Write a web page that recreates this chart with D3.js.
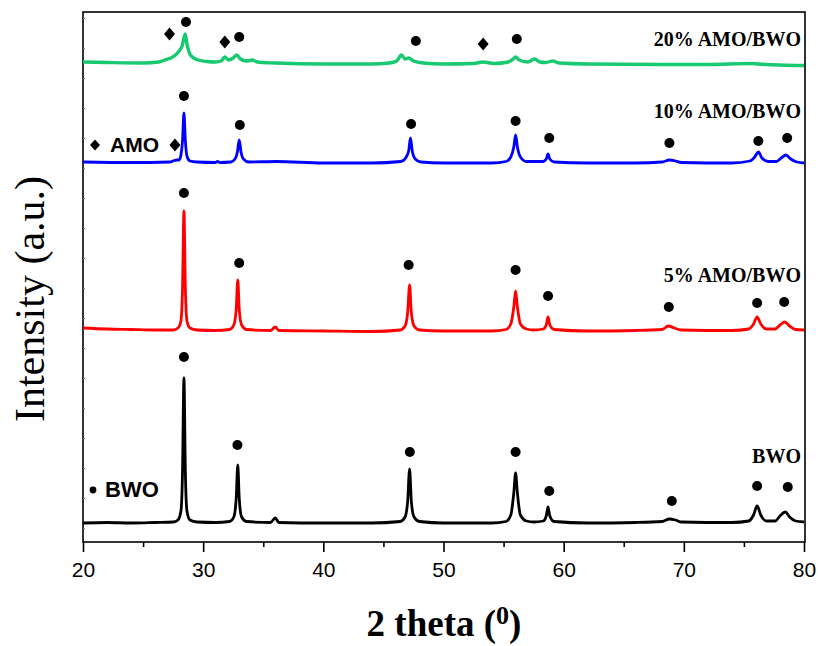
<!DOCTYPE html>
<html>
<head>
<meta charset="utf-8">
<script src="https://cdn.jsdelivr.net/npm/d3@7"></script>
<style>
  html, body {margin: 0; padding: 0; background: #fff;}
  svg {display: block;}
</style>
</head>
<body>
<div id="chart"></div>
<script>
// x tick values (2 theta, degrees)
var xMajor = [20, 30, 40, 50, 60, 70, 80]
var xMinor = [25, 35, 45, 55, 65, 75]

var seriesNames = ['BWO', '5% AMO/BWO', '10% AMO/BWO', '20% AMO/BWO']
var seriesColors = ['#000000', '#ff0000', '#0000ff', '#17c96f']
// vertical offset of each pattern in the stack (a.u.)
var seriesOffsets = [5, 197, 365, 464]

// patterns: [2theta, intensity above own baseline]
var bwoPts = [
  [20, 0], [22, 0.5], [24, 0], [26, 0.5], [27.5, 1], [27.9, 3], [28.15, 12], [28.28, 50],
  [28.4, 145], [28.52, 50], [28.65, 12], [28.9, 3], [29.5, 1], [31, 0.5], [32.2, 1.5],
  [32.55, 6], [32.75, 25], [32.88, 58], [33.0, 25], [33.2, 6], [33.6, 1.5], [35.6, 0.5],
  [36.0, 5], [36.3, 0.5], [40, 0], [44, 0], [46.4, 1.5], [46.8, 6], [47.02, 22], [47.18, 54],
  [47.32, 22], [47.55, 6], [48, 1.5], [50, 0], [54, 0], [55.2, 1.5], [55.6, 8], [55.85, 30],
  [56.0, 50], [56.15, 30], [56.4, 8], [56.9, 2], [57.5, 1], [58.3, 2], [58.55, 7], [58.7, 16],
  [58.85, 7], [59.2, 1.5], [62, 0], [66, 0.5], [68.2, 1.5], [68.8, 4], [69.3, 3], [69.8, 1],
  [74, 0.5], [75.4, 2], [75.8, 8], [76.1, 17], [76.4, 8], [76.9, 2], [77.6, 2], [78.0, 7],
  [78.45, 11], [78.8, 6], [79.3, 2], [80, 1]
]

var amo5Pts = [
  [20, 3], [22, 2], [24, 1.5], [26, 1], [27.5, 1], [27.9, 3], [28.15, 10], [28.28, 42],
  [28.4, 120], [28.52, 42], [28.65, 10], [28.9, 3], [29.5, 1], [31, 0.5], [32.2, 1.5],
  [32.55, 6], [32.75, 22], [32.88, 51], [33.0, 22], [33.2, 6], [33.6, 1.5], [35.6, 0.5],
  [36.0, 4], [36.3, 0.5], [40, 0], [44, -0.5], [46.4, 1], [46.8, 5], [47.02, 19], [47.18, 46],
  [47.32, 19], [47.55, 5], [48, 1], [50, 0], [54, 0], [55.2, 1.5], [55.6, 7], [55.85, 24],
  [56.0, 40], [56.15, 24], [56.4, 7], [56.9, 2], [57.5, 1], [58.3, 2], [58.55, 6], [58.7, 14],
  [58.85, 6], [59.2, 1.5], [62, 0], [66, 0.5], [68.2, 1.5], [68.7, 5], [69.2, 3], [69.8, 1],
  [74, 0.5], [75.4, 2], [75.8, 7], [76.1, 14], [76.4, 7], [76.9, 2], [77.6, 2], [78.0, 6],
  [78.4, 9], [78.8, 5], [79.3, 1.5], [80, 1]
]

var amo10Pts = [
  [20, 1], [24, 0.5], [27.2, 1], [27.6, 2.5], [27.8, 3], [28.0, 3], [28.15, 8], [28.28, 22],
  [28.4, 50], [28.52, 22], [28.65, 7], [28.9, 2], [29.5, 1], [31.0, 0.5], [31.2, 1.5], [31.4, 0.5],
  [32.3, 1], [32.65, 4], [32.85, 11], [33.0, 23], [33.15, 11], [33.35, 4], [33.8, 1], [36.1, 1.5],
  [40, 0], [44, 0], [46.45, 1.5], [46.85, 5], [47.1, 12], [47.25, 25], [47.4, 12], [47.65, 4],
  [48.1, 1], [50, 0], [54, 0], [55.2, 1.5], [55.6, 6], [55.85, 16], [56.0, 28], [56.15, 16],
  [56.4, 6], [56.9, 1.5], [58.3, 1.5], [58.55, 4], [58.7, 9], [58.85, 4], [59.2, 1], [62, 0],
  [66, 0], [68.2, 1], [68.8, 3], [69.3, 2], [69.8, 0.5], [74, 0], [75.5, 2], [75.9, 6],
  [76.2, 11], [76.5, 5], [77.0, 1.5], [77.7, 1.5], [78.1, 5], [78.5, 8], [78.9, 4], [79.4, 1],
  [80, 0]
]

var amo20Pts = [
  [20, 2], [22, 1.5], [25, 1], [26.3, 2], [26.8, 4], [27.3, 6], [27.7, 9], [28.0, 13],
  [28.25, 18], [28.5, 30], [28.65, 20], [28.85, 11], [29.1, 7], [29.6, 4], [30.3, 2.5], [31.0, 2],
  [31.5, 3], [31.8, 7], [32.1, 4], [32.5, 6], [32.8, 9], [33.1, 5], [33.6, 3], [34.1, 4],
  [34.5, 2], [36, 1], [40, 0], [44, 0], [45.5, 1], [46.1, 3], [46.5, 9], [46.8, 5],
  [47.1, 6], [47.5, 3], [48.3, 1], [50, 0], [52.5, 0.5], [53.3, 2], [54.2, 0.5], [55.4, 2],
  [55.8, 5], [56.0, 7], [56.3, 4], [57.0, 2], [57.6, 5], [58.0, 2], [58.5, 1.5], [59.1, 3],
  [59.6, 1], [62, 0], [68, -0.5], [72, -0.5], [75.5, 0.5], [76.2, 0], [78, -1], [80, -1.5]
]

// reflection markers: [2theta, level (a.u., absolute)]
var bwoDots = [[28.4, 171], [32.85, 83], [47.2, 76], [56.0, 76], [58.8, 37], [69.0, 27], [76.1, 42], [78.65, 41]]
var amo5Dots = [[28.4, 335], [33.0, 265], [47.1, 263], [56.0, 258], [58.7, 232], [68.75, 221], [76.1, 225], [78.35, 226]]
var amo10Dots = [[28.4, 432], [33.05, 403], [47.3, 404], [56.0, 407], [58.8, 390], [68.8, 385], [76.2, 387], [78.6, 390]]
var amo10Diamonds = [[27.65, 383]]
var amo20Dots = [[28.57, 506], [33.0, 491], [47.7, 487], [56.1, 489]]
var amo20Diamonds = [[27.2, 494], [31.8, 486], [53.3, 484]]

var seriesPts = [bwoPts, amo5Pts, amo10Pts, amo20Pts]
var allDots = bwoDots.concat(amo5Dots, amo10Dots, amo20Dots)
var allDiamonds = amo10Diamonds.concat(amo20Diamonds)

var width = 818
var height = 646
var plot = {left: 83, right: 804, top: 12, bottom: 542}

var svg = d3.select('#chart').append('svg')
  .attr('width', width)
  .attr('height', height)

var x = d3.scaleLinear().domain([20, 80]).range([plot.left, plot.right])
var y = d3.scaleLinear().domain([-14, 516]).range([plot.bottom, plot.top])

// frame
svg.append('rect')
  .attr('x', plot.left).attr('y', plot.top)
  .attr('width', plot.right - plot.left + 1).attr('height', plot.bottom - plot.top)
  .attr('fill', 'none').attr('stroke', '#000').attr('stroke-width', 1.6)

// x axis, major and minor ticks
var xAxis = svg.append('g')
  .attr('transform', 'translate(0,' + plot.bottom + ')')
  .call(d3.axisBottom(x).tickValues(xMajor).tickSize(10).tickPadding(10).tickFormat(d3.format('d')))
xAxis.select('.domain').remove()
xAxis.selectAll('line').attr('stroke-width', 1.6)
xAxis.selectAll('text')
  .attr('font-family', 'Liberation Sans, Arial, sans-serif')
  .attr('font-size', 21)
  .attr('fill', '#000')

var xMinorAxis = svg.append('g')
  .attr('transform', 'translate(0,' + plot.bottom + ')')
  .call(d3.axisBottom(x).tickValues(xMinor).tickSize(5).tickFormat(''))
xMinorAxis.select('.domain').remove()
xMinorAxis.selectAll('line').attr('stroke-width', 1.6)

// faint inner ticks on the left axis
var yAxis = svg.append('g')
  .attr('transform', 'translate(' + plot.left + ',0)')
  .call(d3.axisRight(y).tickValues(d3.range(0, 511, 30)).tickSize(2).tickFormat(''))
yAxis.select('.domain').remove()
yAxis.selectAll('line').attr('stroke', '#777').attr('stroke-width', 1)

// patterns
var line = d3.line()
  .x(d => x(d[0]))
  .y(d => y(d[1]))
  .curve(d3.curveMonotoneX)

seriesPts.forEach((pts, i) => {
  var off = seriesOffsets[i]
  svg.append('path')
    .datum(pts.map(d => [d[0], d[1] + off]))
    .attr('d', line)
    .attr('fill', 'none')
    .attr('stroke', seriesColors[i])
    .attr('stroke-width', i == 3 ? 3.4 : 2.8)
    .attr('stroke-linejoin', 'round')
})

// reflection markers
svg.append('g').selectAll('circle')
  .data(allDots)
  .join('circle')
  .attr('cx', d => x(d[0]))
  .attr('cy', d => y(d[1]))
  .attr('r', 5)
  .attr('fill', '#000')

var diamond = 'M0,-6.5L5.5,0L0,6.5L-5.5,0Z'
svg.append('g').selectAll('path')
  .data(allDiamonds)
  .join('path')
  .attr('transform', d => 'translate(' + x(d[0]) + ',' + y(d[1]) + ')')
  .attr('d', diamond)
  .attr('fill', '#000')

// sample labels, right aligned inside the frame
var labelY = [463, 282, 118, 46]
seriesNames.forEach((name, i) => {
  svg.append('text')
    .attr('x', 801)
    .attr('y', labelY[i])
    .attr('text-anchor', 'end')
    .attr('font-family', 'Liberation Serif, Times New Roman, serif')
    .attr('font-weight', 'bold')
    .attr('font-size', 20)
    .text(name)
})

// phase key
svg.append('path')
  .attr('transform', 'translate(95,145)')
  .attr('d', 'M0,-5.5L5,0L0,5.5L-5,0Z')
svg.append('text')
  .attr('x', 110).attr('y', 152)
  .attr('font-family', 'Liberation Sans, Arial, sans-serif')
  .attr('font-weight', 'bold')
  .attr('font-size', 21)
  .text('AMO')

svg.append('circle')
  .attr('cx', 93).attr('cy', 490)
  .attr('r', 3.4)
svg.append('text')
  .attr('x', 105).attr('y', 497)
  .attr('font-family', 'Liberation Sans, Arial, sans-serif')
  .attr('font-weight', 'bold')
  .attr('font-size', 22)
  .text('BWO')

// axis titles
var xTitle = svg.append('text')
  .attr('x', 444).attr('y', 636)
  .attr('text-anchor', 'middle')
  .attr('font-family', 'Liberation Serif, Times New Roman, serif')
  .attr('font-weight', 'bold')
  .attr('font-size', 37)
xTitle.append('tspan').text('2 theta (')
xTitle.append('tspan').attr('dy', -12).attr('font-size', 26).text('0')
xTitle.append('tspan').attr('dy', 12).text(')')

svg.append('text')
  .attr('transform', 'translate(44,299) rotate(-90)')
  .attr('text-anchor', 'middle')
  .attr('font-family', 'Liberation Serif, Times New Roman, serif')
  .attr('font-size', 42)
  .text('Intensity (a.u.)')
</script>
</body>
</html>
